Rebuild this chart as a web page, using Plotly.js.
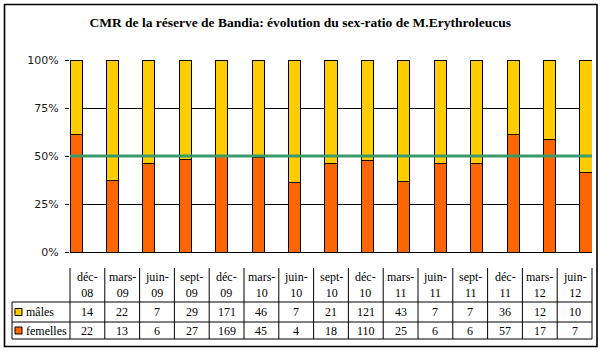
<!DOCTYPE html>
<html>
<head>
<meta charset="utf-8">
<script src="https://cdn.plot.ly/plotly-3.0.1.min.js"></script>
<style>html,body{margin:0;padding:0;background:#fff;}#chart{width:604px;height:352px;}</style>
</head>
<body>
<div id="chart"></div>
<script>
// ---- data ----
const categories = ['déc-08','mars-09','juin-09','sept-09','déc-09','mars-10','juin-10','sept-10','déc-10','mars-11','juin-11','sept-11','déc-11','mars-12','juin-12'];
const males    = [14, 22, 7, 29, 171, 46, 7, 21, 121, 43, 7, 7, 36, 12, 10];
const femelles = [22, 13, 6, 27, 169, 45, 4, 18, 110, 25, 6, 6, 57, 17, 7];
const seriesNames = ['mâles', 'femelles'];
const refLevel = 50;
const yTicks = [0, 25, 50, 75, 100];
const titleText = 'CMR de la réserve de Bandia: évolution du sex-ratio de M.Erythroleucus';

// ---- style ----
const colMales = '#FFCC00';
const colFem = '#FF6600';
const serif = 'Liberation Serif, Times New Roman, serif';
const W = 604, H = 352;
const mL = 70, mR = 12, mT = 60, mB = 100;
const plotW = W - mL - mR, plotH = H - mT - mB;
const px = v => (v - mL) / plotW;          // pixel x -> paper
const py = v => (H - mB - v) / plotH;      // pixel y -> paper
const n = categories.length;
const barW = 0.33;

const traces = [
  {type:'bar', name: seriesNames[1], x: categories, y: femelles, width: barW,
   marker:{color: colFem, line:{color:'#000', width:1}}, hoverinfo:'skip'},
  {type:'bar', name: seriesNames[0], x: categories, y: males, width: barW,
   marker:{color: colMales, line:{color:'#000', width:1}}, hoverinfo:'skip'}
];

const shapes = [];
const annotations = [];
const line = (x0,y0,x1,y1,w) => shapes.push({type:'line', xref:'paper', yref:'paper', x0:px(x0), x1:px(x1), y0:py(y0), y1:py(y1), line:{color:'#000', width:w||1}});

// 50% reference line
shapes.push({type:'line', xref:'paper', yref:'y', x0:0, x1:1, y0:refLevel, y1:refLevel, line:{color:'#3a9a6c', width:3}, layer:'above'});

// outer border
shapes.push({type:'rect', xref:'paper', yref:'paper', x0:px(4.5), x1:px(597), y0:py(4.5), y1:py(346.5), line:{color:'#000', width:1.6}});

// table geometry (pixels)
const tHead = 268, tRow1 = 302, tRow2 = 322, tBot = 339, tLeft = 12;
for (let k = 0; k <= n; k++) {
  shapes.push({type:'line', xref:'paper', yref:'paper', x0:k/n, x1:k/n, y0:py(tHead), y1:py(tBot), line:{color:'#000', width:1}});
}
line(tLeft, tRow1, tLeft, tBot);
line(tLeft, tRow1, mL + plotW, tRow1);
line(tLeft, tRow2, mL + plotW, tRow2);
line(tLeft, tBot, mL + plotW, tBot);

// table text
const tf = {family: serif, size: 12, color: '#000'};
categories.forEach((c, k) => {
  const parts = c.split('-');
  annotations.push({xref:'paper', yref:'paper', x:(k+0.5)/n, y:py((tHead+tRow1)/2), text: parts[0] + '-<br>' + parts[1], showarrow:false, font: tf, xanchor:'center', yanchor:'middle'});
  annotations.push({xref:'paper', yref:'paper', x:(k+0.5)/n, y:py((tRow1+tRow2)/2), text: String(males[k]), showarrow:false, font: tf, xanchor:'center', yanchor:'middle'});
  annotations.push({xref:'paper', yref:'paper', x:(k+0.5)/n, y:py((tRow2+tBot)/2), text: String(femelles[k]), showarrow:false, font: tf, xanchor:'center', yanchor:'middle'});
});
[[seriesNames[0], colMales, (tRow1+tRow2)/2], [seriesNames[1], colFem, (tRow2+tBot)/2]].forEach(([name, col, cy]) => {
  shapes.push({type:'rect', xref:'paper', yref:'paper', x0:px(15), x1:px(22), y0:py(cy-3.5), y1:py(cy+3.5), fillcolor: col, line:{color:'#000', width:1}});
  annotations.push({xref:'paper', yref:'paper', x:px(24), y:py(cy), text:name, showarrow:false, font: tf, xanchor:'left', yanchor:'middle'});
});

const layout = {
  width: W, height: H,
  margin: {l: mL, r: mR, t: mT, b: mB, pad: 0},
  paper_bgcolor: '#fff', plot_bgcolor: '#fff',
  barmode: 'stack', barnorm: 'percent',
  showlegend: false,
  title: {text: '<b>' + titleText + '</b>', font: {family: serif, size: 13.5, color: '#000'}, x: 0.497, xref: 'container', xanchor: 'center', y: 1 - 22/H, yref: 'container', yanchor: 'middle'},
  xaxis: {type: 'category', range: [-barW/2, n - 1 + barW/2], showticklabels: false, ticks: '', showgrid: false, showline: false, zeroline: false, fixedrange: true},
  yaxis: {range: [0, 100], tickvals: yTicks, ticktext: yTicks.map(v => v + '%'), ticks: 'outside', ticklen: 4, tickwidth: 1, tickcolor: '#000',
          showgrid: true, gridcolor: '#000', gridwidth: 1, zeroline: true, zerolinecolor: '#000', zerolinewidth: 1, showline: false,
          tickfont: {family: 'DejaVu Sans, Verdana, sans-serif', size: 11, color: '#1a1a1a'}, ticklabelstandoff: 4, fixedrange: true},
  shapes: shapes,
  annotations: annotations,
  font: {family: serif}
};

Plotly.newPlot('chart', traces, layout, {staticPlot: true, displayModeBar: false});
</script>
</body>
</html>
